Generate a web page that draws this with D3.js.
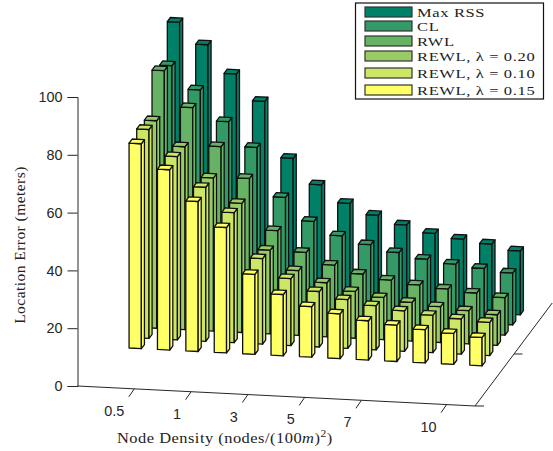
<!DOCTYPE html>
<html>
<head>
<meta charset="utf-8">
<script src="https://cdnjs.cloudflare.com/ajax/libs/d3/7.8.5/d3.min.js"></script>
<style>
  html, body { margin: 0; padding: 0; background: #fff; }
  svg { display: block; }
  text { fill: #222; }
  .num { font-family: "Liberation Sans", sans-serif; font-size: 14.4px; fill: #262626; }
  .tex { font-family: "Liberation Serif", serif; }
</style>
</head>
<body>
<div id="chart"></div>
<script>
var width = 553;
var height = 451;

// node density of each group of bars, front to right
var densities = ["0.25", "0.5", "0.75", "1", "2", "3", "4", "5", "6", "7", "8", "9", "10"];
var densityTicks = ["0.5", "1", "3", "5", "7", "10"];
var errorTicks = [0, 20, 40, 60, 80, 100];

var seriesNames = ["Max RSS", "CL", "RWL", "REWL, \u03bb = 0.20", "REWL, \u03bb = 0.10", "REWL, \u03bb = 0.15"];
var seriesColors = ["#008066", "#339966", "#66b366", "#99cc66", "#cce666", "#ffff66"];

var maxRss = [95.3, 88, 78.4, 69.4, 50.2, 41.5, 35.6, 32, 29.1, 26.7, 25.2, 24, 22.1];
var cl = [83.8, 75.9, 65.4, 57, 40.2, 32.4, 27.9, 25.3, 23.1, 21.3, 20.1, 19.1, 18];
var rwl = [85.6, 73.3, 60.3, 49.8, 32.2, 25.2, 21.3, 18.7, 17.1, 15.9, 15, 14.1, 13];
var rewl20 = [71.8, 63.3, 53, 44.7, 29, 22.4, 18.7, 16.2, 14.6, 13.4, 12.4, 11.5, 10.6];
var rewl10 = [72.3, 63.4, 53.3, 45, 29.6, 23.2, 19.2, 16.9, 15.3, 14, 13, 12.2, 11.5];
var rewl15 = [70.9, 62.4, 51.9, 43.4, 27.7, 21.2, 17.5, 15.5, 13.6, 12.6, 11.5, 10.7, 9.8];
var seriesValues = [maxRss, cl, rwl, rewl20, rewl10, rewl15];

var svg = d3.select("#chart")
  .append("svg")
  .attr("width", width)
  .attr("height", height);

// oblique projection: origin of the floor, then the three axes
var originX = 77.5;
var originY = 386;
var floorSlope = 0.0503;
var depthSlope = 0.75;
var barWidth = 12.3;
var barDepth = 4.1;

var xScale = d3.scalePoint().domain(densities).range([0, 397.5]).padding(1);
var depthScale = d3.scalePoint().domain(seriesNames).range([90.1, 39.1]);
var zScale = d3.scaleLinear().domain([0, 100]).range([originY, 97]);

function px(a, b) {
  return originX + a + depthSlope * b;
}
function py(a, b, v) {
  return zScale(v) + floorSlope * a - b;
}
function pts(list) {
  return list.map(function (p) { return p[0] + "," + p[1]; }).join(" ");
}

// axes first, bars sit on top
var axisColor = "#262626";

var zAxis = svg.append("g")
  .attr("transform", "translate(" + originX + ",0)")
  .call(d3.axisLeft(zScale).tickValues(errorTicks).tickSize(10).tickPadding(5));
zAxis.select(".domain").attr("stroke", axisColor).attr("stroke-width", 1);
zAxis.selectAll(".tick line").attr("stroke", axisColor);
zAxis.selectAll(".tick text").attr("class", "num").attr("font-family", null).attr("font-size", null);

var axisEnd = xScale.range()[1];
var sideEnd = 103;

svg.append("line")
  .attr("x1", px(0, 0)).attr("y1", py(0, 0, 0))
  .attr("x2", px(axisEnd, 0)).attr("y2", py(axisEnd, 0, 0))
  .attr("stroke", axisColor);
svg.append("line")
  .attr("x1", px(axisEnd, 0)).attr("y1", py(axisEnd, 0, 0))
  .attr("x2", px(axisEnd, sideEnd)).attr("y2", py(axisEnd, sideEnd, 0))
  .attr("stroke", axisColor);
// corner tick and the single depth tick
svg.append("line")
  .attr("x1", px(axisEnd, 0)).attr("y1", py(axisEnd, 0, 0))
  .attr("x2", px(axisEnd, 0) + 9).attr("y2", py(axisEnd, 0, 0))
  .attr("stroke", axisColor);
svg.append("line")
  .attr("x1", px(axisEnd, 52)).attr("y1", py(axisEnd, 52, 0))
  .attr("x2", px(axisEnd, 52) + 8.5).attr("y2", py(axisEnd, 52, 0))
  .attr("stroke", axisColor);

var xTicks = svg.selectAll(".xtick")
  .data(densityTicks)
  .enter().append("g")
  .attr("class", "xtick");
xTicks.append("line")
  .attr("x1", function (d) { return px(xScale(d), 0); })
  .attr("y1", function (d) { return py(xScale(d), 0, 0); })
  .attr("x2", function (d) { return px(xScale(d), 0) - 5.5; })
  .attr("y2", function (d) { return py(xScale(d), 0, 0) + 8; })
  .attr("stroke", axisColor);
xTicks.append("text")
  .attr("class", "num")
  .attr("text-anchor", "end")
  .attr("x", function (d) { return px(xScale(d), 0) - 10; })
  .attr("y", function (d) { return py(xScale(d), 0, 0) + 27; })
  .text(function (d) { return d; });

// bars, back row first so the front rows cover them
var rows = svg.selectAll(".row")
  .data(seriesNames)
  .enter().append("g")
  .attr("class", "row")
  .attr("fill", function (d, s) { return seriesColors[s]; })
  .attr("stroke", "#111")
  .attr("stroke-width", 1.3)
  .attr("stroke-linejoin", "round");

rows.each(function (name, s) {
  var b = depthScale(name);
  var bars = d3.select(this).selectAll("g")
    .data(seriesValues[s])
    .enter().append("g");

  function left(d, i) { return xScale(densities[i]) - barWidth / 2; }
  function right(d, i) { return xScale(densities[i]) + barWidth / 2; }

  // front face
  bars.append("polygon").attr("points", function (d, i) {
    var a0 = left(d, i), a1 = right(d, i);
    return pts([
      [px(a0, b), py(a0, b, 0)], [px(a1, b), py(a1, b, 0)],
      [px(a1, b), py(a1, b, d)], [px(a0, b), py(a0, b, d)]
    ]);
  });
  // side face
  bars.append("polygon").attr("points", function (d, i) {
    var a1 = right(d, i), b1 = b + barDepth;
    return pts([
      [px(a1, b), py(a1, b, 0)], [px(a1, b1), py(a1, b1, 0)],
      [px(a1, b1), py(a1, b1, d)], [px(a1, b), py(a1, b, d)]
    ]);
  });
  // top face
  bars.append("polygon").attr("points", function (d, i) {
    var a0 = left(d, i), a1 = right(d, i), b1 = b + barDepth;
    return pts([
      [px(a0, b), py(a0, b, d)], [px(a1, b), py(a1, b, d)],
      [px(a1, b1), py(a1, b1, d)], [px(a0, b1), py(a0, b1, d)]
    ]);
  });
});

// axis titles, computer modern is wider than this serif so they get stretched
var xTitle = svg.append("text")
  .attr("class", "tex")
  .attr("transform", "translate(117,442.5) scale(1.21,1)")
  .attr("font-size", 13.6)
  .attr("letter-spacing", 0.4);
xTitle.append("tspan").text("Node Density (nodes/(100");
xTitle.append("tspan").attr("font-style", "italic").text("m");
xTitle.append("tspan").text(")");
xTitle.append("tspan").attr("font-size", 9.5).attr("dy", -6).text("2");
xTitle.append("tspan").attr("dy", 6).text(")");

svg.append("text")
  .attr("class", "tex")
  .attr("transform", "translate(25,245) rotate(-90) scale(1.14,1)")
  .attr("text-anchor", "middle")
  .attr("font-size", 13.6)
  .attr("letter-spacing", 0.4)
  .text("Location Error (meters)");

// legend
var legendTops = d3.scaleOrdinal().domain(seriesNames).range([7, 21, 36, 51, 68, 85]);

var legend = svg.append("g");
legend.append("rect")
  .attr("x", 355.5).attr("y", 3)
  .attr("width", 188).attr("height", 96)
  .attr("fill", "#fff")
  .attr("stroke", "#111")
  .attr("stroke-width", 1.2);

var items = legend.selectAll(".item")
  .data(seriesNames)
  .enter().append("g")
  .attr("class", "item");
items.append("rect")
  .attr("x", 365).attr("width", 47).attr("height", 10)
  .attr("y", function (d) { return legendTops(d); })
  .attr("fill", function (d, s) { return seriesColors[s]; })
  .attr("stroke", "#333")
  .attr("stroke-width", 1.2);
items.append("text")
  .attr("class", "tex")
  .attr("transform", function (d) {
    return "translate(417," + (legendTops(d) + 9.5) + ") scale(1.27,1)";
  })
  .attr("font-size", 13)
  .attr("letter-spacing", 0.5)
  .text(function (d) { return d; });
</script>
</body>
</html>
